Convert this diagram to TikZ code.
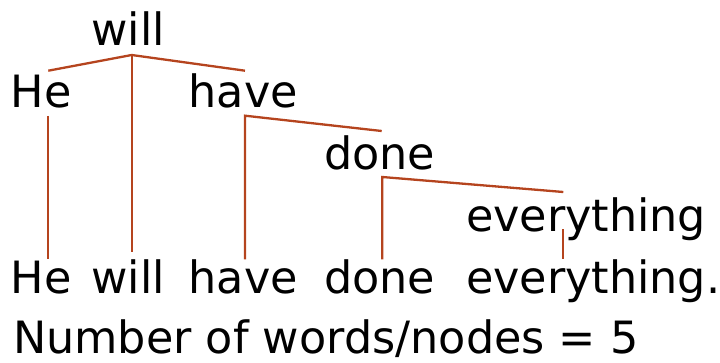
\documentclass[tikz,border=0pt]{standalone}
\usepackage{fontspec}
\setmainfont{DejaVu Sans}
\definecolor{deplink}{RGB}{181,68,30}
\begin{document}
\begin{tikzpicture}[x=1pt,y=-1pt,
  word/.style={anchor=base west,inner sep=0pt,outer sep=0pt,font=\fontsize{44.5}{50}\selectfont},
  link/.style={draw=deplink,line width=2.3pt}]
\useasboundingbox (0,0) rectangle (720,363);
% tree words
\node[word] (tWill) at (91.4,45.5) {will};
\node[word] (tHe) at (10.6,108) {He};
\node[word] (tHave) at (188.7,108) {have};
\node[word] (tDone) at (324.2,170) {done};
\node[word] (tEvery) at (466,232) {everything};
% sentence words
\node[word] (sHe) at (10.6,294) {He};
\node[word] (sWill) at (91.4,294) {will};
\node[word] (sHave) at (188.7,294) {have};
\node[word] (sDone) at (324.2,294) {done};
\node[word] (sEvery) at (466,294) {everything.};
\node[word] (count) at (13,353.5) {Number of words/nodes = 5};
% attachment points
\coordinate (vWill) at (131.7,55);
\coordinate (inHe) at (48.3,70.7);
\coordinate (inHave) at (245,70.7);
\coordinate (vHe) at (48.3,116);
\coordinate (vHave) at (245,115.7);
\coordinate (inDone) at (381.7,131);
\coordinate (vDone) at (382.3,177);
\coordinate (inEvery) at (563.3,192);
\coordinate (vEvery) at (563.3,229.3);
\coordinate (bHe) at (48.3,259.3);
\coordinate (bWill) at (131.7,251.7);
\coordinate (bHave) at (245,259.3);
\coordinate (bDone) at (382.3,259.3);
\coordinate (bEvery) at (563.3,259.3);
% connectors
\draw[link] (inHe) -- (vWill) -- (inHave);
\draw[link] (vWill) -- (bWill);
\draw[link] (vHe) -- (bHe);
\draw[link] (bHave) -- (vHave) -- (inDone);
\draw[link] (bDone) -- (vDone) -- (inEvery);
\draw[link] (vEvery) -- (bEvery);
\end{tikzpicture}
\end{document}
